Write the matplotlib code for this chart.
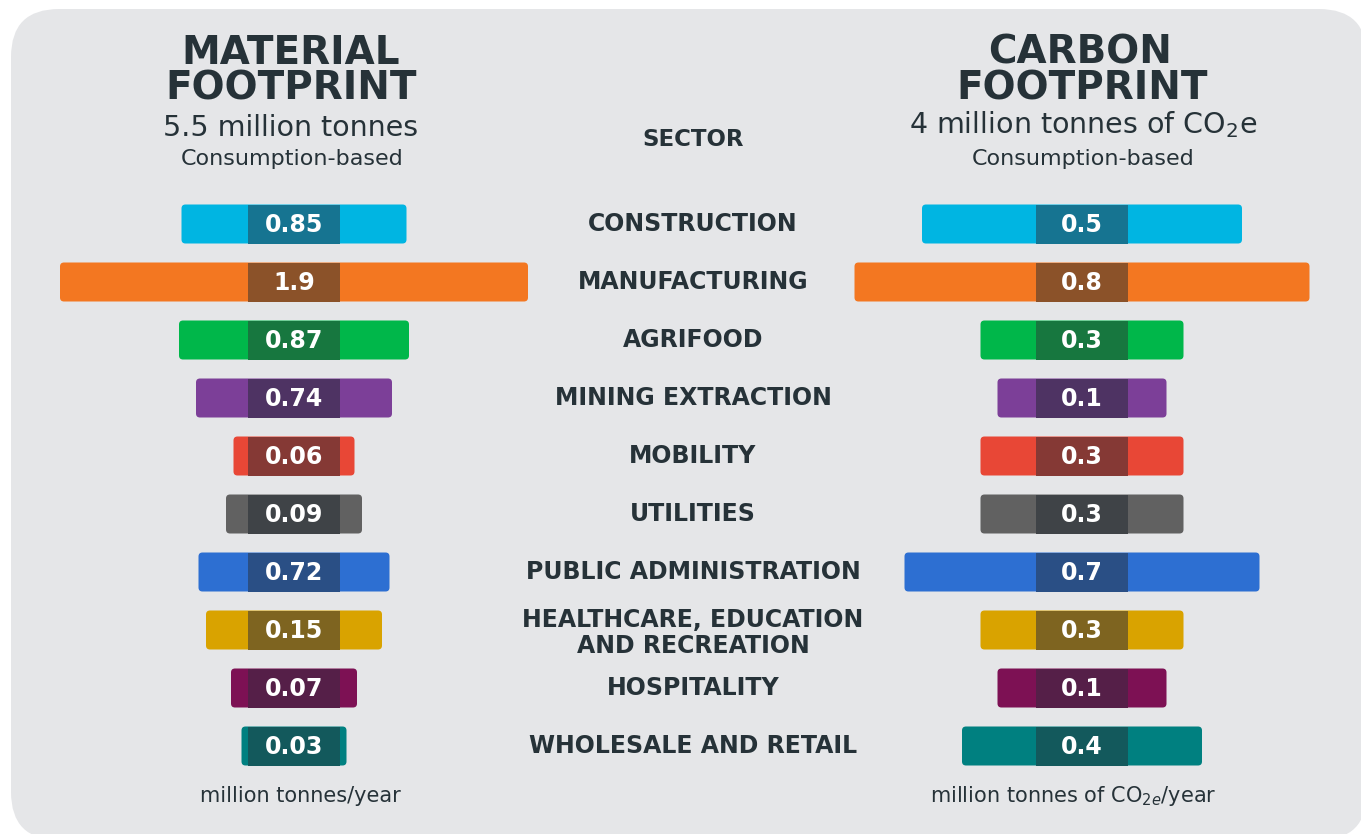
import numpy as np
import matplotlib.pyplot as plt
from matplotlib.patches import FancyBboxPatch
from matplotlib.transforms import blended_transform_factory

#----------------------
# data
sectors = ['CONSTRUCTION', 'MANUFACTURING', 'AGRIFOOD', 'MINING EXTRACTION',
           'MOBILITY', 'UTILITIES', 'PUBLIC ADMINISTRATION',
           'HEALTHCARE, EDUCATION\nAND RECREATION', 'HOSPITALITY',
           'WHOLESALE AND RETAIL']
material_vals = ['0.85', '1.9', '0.87', '0.74', '0.06', '0.09', '0.72', '0.15', '0.07', '0.03']
carbon_vals = ['0.5', '0.8', '0.3', '0.1', '0.3', '0.3', '0.7', '0.3', '0.1', '0.4']
# drawn bar lengths (the designer's bars are not to scale)
material_len = [225, 468, 230, 196, 121, 136, 191, 176, 126, 105]
carbon_len = [320, 455, 203, 169, 203, 203, 355, 203, 169, 240]
light_cols = ['#00b5e2', '#f37721', '#00b74a', '#7c3f98', '#e84736',
              '#616161', '#2d6fd2', '#d9a300', '#7d1154', '#008080']
dark_cols = ['#167491', '#8b5229', '#17773f', '#4e3363', '#853935',
             '#3f4347', '#2a4f85', '#7e6420', '#551f48', '#13595c']
#----------------------

W, H = 1361, 834
txt = '#263238'
bg = '#e5e6e8'

fig = plt.figure(figsize=(W/100, H/100), dpi=100)
fig.patch.set_facecolor('white')

# background panel
bgax = fig.add_axes([0, 0, 1, 1])
bgax.set_xlim(0, W)
bgax.set_ylim(H, 0)
bgax.axis('off')
bgax.add_patch(FancyBboxPatch((11, 9), 1356, 831,
                              boxstyle='round,pad=0,rounding_size=48',
                              fc=bg, ec='none'))

rows = np.arange(len(sectors))
row_px = 58.
bar_h = 39 / row_px
ylim = ((H - 224) / row_px, -224 / row_px)


def draw_side(left_px, lens, vals):
    ax = fig.add_axes([left_px / W, 0, 588 / W, 1])
    ax.set_xlim(-294, 294)
    ax.set_ylim(*ylim)
    ax.axis('off')
    outer = ax.barh(rows, lens, left=-np.array(lens) / 2, height=bar_h,
                    color=light_cols)
    for r in outer:
        r.set_visible(False)
        ax.add_patch(FancyBboxPatch((r.get_x(), r.get_y()), r.get_width(), r.get_height(),
                                    boxstyle='round,pad=0,rounding_size=4',
                                    mutation_aspect=1 / row_px,
                                    fc=r.get_facecolor(), ec='none'))
    ax.barh(rows, 92, left=-46, height=bar_h, color=dark_cols, zorder=3)
    for i, v in enumerate(vals):
        ax.text(0, i - 0.02, v, ha='center', va='center_baseline', color='white',
                fontsize=17, fontweight='bold', zorder=4)
    return ax


axL = draw_side(0, material_len, material_vals)
axR = draw_side(788, carbon_len, carbon_vals)

# sector names in the middle column
tr = blended_transform_factory(fig.transFigure, axL.transData)
for i, s in enumerate(sectors):
    yy = i + (0.05 if '\n' in s else 0)
    fig.text(693 / W, yy, s, transform=tr, ha='center', va='center',
             fontsize=17, fontweight='bold', color=txt, linespacing=1.08)


def ftext(x, y, s, **kw):
    fig.text(x / W, 1 - y / H, s, ha='center', va='center', color=txt, **kw)


ftext(291, 53, 'MATERIAL', fontsize=28, fontweight='bold')
ftext(291, 89, 'FOOTPRINT', fontsize=28, fontweight='bold')
ftext(291, 128, '5.5 million tonnes', fontsize=20.5)
ftext(292, 159, 'Consumption-based', fontsize=16)

ftext(1080, 53, 'CARBON', fontsize=28, fontweight='bold')
ftext(1082, 89, 'FOOTPRINT', fontsize=28, fontweight='bold')
ftext(1083, 125, '4 million tonnes of CO$_2$e', fontsize=20.5)
ftext(1083, 159, 'Consumption-based', fontsize=16)

ftext(693, 140, 'SECTOR', fontsize=16.5, fontweight='bold')

ftext(300, 796, 'million tonnes/year', fontsize=15)
ftext(1073, 796, 'million tonnes of CO$_{2e}$/year', fontsize=15)

plt.savefig('out.png', dpi=100, facecolor=fig.get_facecolor())
